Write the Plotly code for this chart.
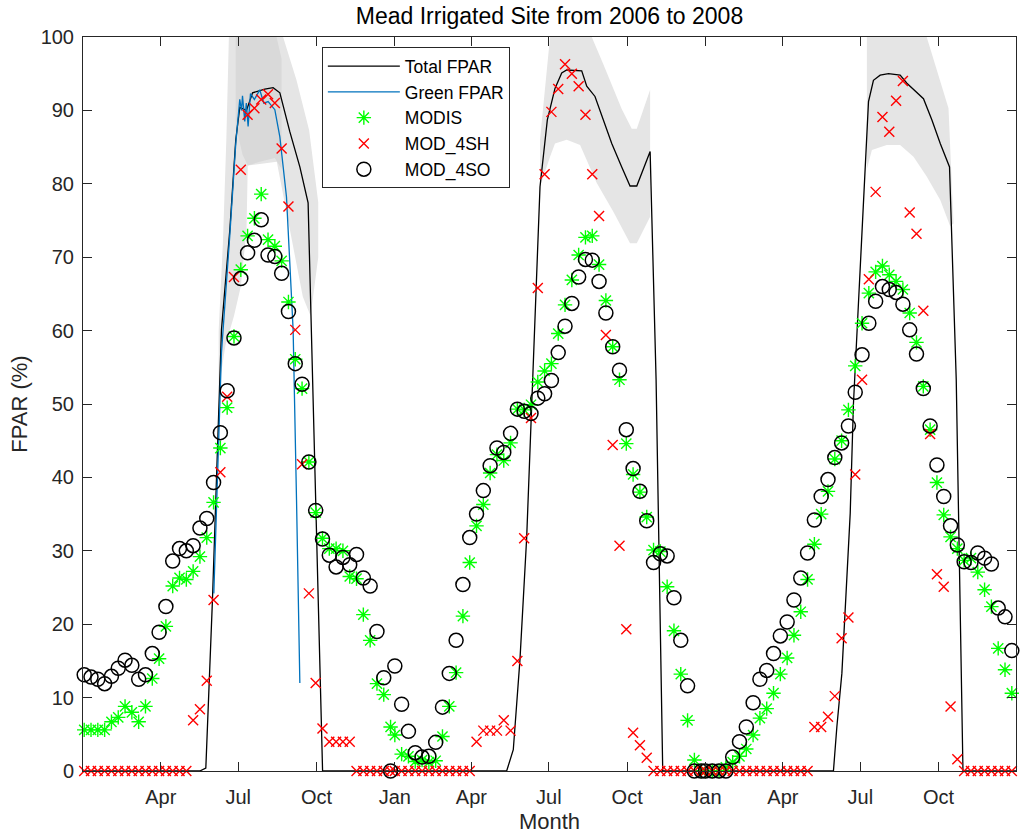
import pandas as pd
import plotly.graph_objects as go

BASE = pd.Timestamp("2006-01-01")
YEARS = [2006, 2007, 2008]
COMPOSITE_DOY = list(range(1, 362, 8))  # 46 MODIS 8-day composites per year

# ---------------- point series (one value per 8-day composite) ----------------
modis_2006 = [5.6, 5.6, 5.6, 5.6, 6.7, 7.3, 8.8, 8.0, 6.7, 8.8, 12.6, 15.3, 19.7, 25.2, 26.3, 26.1,
              27.2, 29.2, 31.8, 36.6, 44.0, 49.5, 59.2, 68.3, 72.9, 75.3, 78.6, 72.4, 71.5, 69.5, 63.9,
              56.1, 52.1, 42.1, 35.2, 31.7, 30.3, 30.3, 30.0, 26.5, 26.2, 21.3, 17.8, 11.9, 10.4, 6.0]
modis_2007 = [4.9, 2.3, 2.0, 1.3, 1.5, 1.2, 1.4, 4.7, 8.8, 13.4, 21.1, 28.4, 33.4, 36.3, 40.6, 43.1,
              42.3, 44.7, 49.3, 49.2, 49.9, 53.0, 54.5, 55.5, 59.6, 63.5, 66.9, 70.3, 72.7, 72.9, 69.0,
              64.1, 57.8, 53.3, 44.6, 40.4, 38.0, 34.6, 30.1, 29.9, 25.1, 19.1, 13.2, 6.9, 1.5, 0.0]
modis_2008 = [0.0, 0.0, 0.0, 0.5, 1.2, 2.0, 3.0, 4.9, 7.2, 8.5, 10.6, 13.2, 15.4, 18.5, 21.7, 26.1,
              30.9, 35.0, 38.1, 42.5, 45.0, 49.2, 55.2, 61.0, 65.1, 68.0, 68.8, 67.6, 66.7, 65.6, 62.4,
              58.4, 52.4, 46.5, 39.3, 34.9, 31.9, 30.3, 28.7, 29.0, 27.1, 24.7, 22.4, 16.7, 13.8, 10.6]

mod4sh_2006 = [0, 0, 0, 0, 0, 0, 0, 0, 0, 0, 0, 0, 0, 0, 0, 0,
               6.9, 8.4, 12.3, 23.3, 40.7, 51.0, 67.3, 81.9, 89.4, 90.3, 91.5, 92.2, 91.0, 84.8, 76.9,
               60.1, 41.8, 24.2, 12.0, 5.8, 4.0, 4.0, 4.0, 4.0, 0, 0, 0, 0, 0, 0]
mod4sh_2007 = [0, 0, 0, 0, 0, 0, 0, 0, 0, 0, 0, 0, 4.0, 5.5, 5.5, 5.5,
               6.9, 5.5, 15.0, 31.7, 48.1, 65.8, 81.3, 89.8, 92.9, 96.3, 95.0, 93.3, 89.4, 81.3, 75.6,
               59.4, 44.4, 30.7, 19.3, 5.2, 3.5, 1.8, 0, 0, 0, 0, 0, 0, 0, 0]
mod4sh_2008 = [0, 0, 0, 0, 0, 0, 0, 0, 0, 0, 0, 0, 0, 0, 0, 0,
               6.0, 6.0, 7.4, 10.2, 18.1, 20.9, 40.4, 53.3, 67.0, 78.9, 89.1, 87.1, 91.3, 94.0, 76.1,
               73.2, 62.7, 45.9, 26.8, 25.1, 8.8, 1.6, 0, 0, 0, 0, 0, 0, 0, 0]

mod4so_2006 = [13.1, 12.8, 12.5, 11.9, 12.9, 14.0, 15.1, 14.4, 12.5, 13.1, 16.0, 18.9, 22.4, 28.6, 30.3, 30.0,
               30.7, 33.1, 34.4, 39.3, 46.1, 51.8, 59.0, 67.1, 70.6, 72.3, 75.1, 70.3, 70.1, 67.8, 62.6,
               55.5, 52.7, 42.1, 35.5, 31.6, 29.4, 27.8, 29.1, 28.1, 29.5, 26.3, 25.2, 19.0, 12.7, 0.0]
mod4so_2007 = [14.3, 9.1, 5.4, 2.5, 1.9, 2.0, 3.9, 8.7, 13.3, 17.8, 25.4, 31.8, 35.0, 38.2, 41.6, 44.0,
               43.4, 46.0, 49.3, 49.0, 48.7, 50.8, 51.4, 53.2, 57.0, 60.6, 63.7, 67.3, 69.7, 69.6, 66.7,
               62.4, 57.8, 54.6, 46.5, 41.2, 38.1, 34.1, 28.4, 29.6, 29.3, 23.6, 17.8, 11.6, 0.0, 0.0]
mod4so_2008 = [0.0, 0.0, 0.0, 0.0, 1.9, 4.0, 6.0, 9.3, 12.5, 13.7, 16.0, 18.4, 20.3, 23.3, 26.3, 29.7,
               34.2, 37.4, 39.7, 42.7, 44.7, 47.0, 51.6, 56.7, 61.0, 64.0, 66.0, 65.6, 65.2, 63.6, 60.1,
               56.8, 52.1, 47.0, 41.7, 37.4, 33.4, 30.8, 28.5, 28.4, 29.7, 29.0, 28.2, 22.2, 21.0, 16.4]

# ---------------- field measured lines (days since 2006-01-01) ----------------
total_day = [0, 135.8, 142.9, 150.7, 161.3, 171.1, 178.1, 182.8, 190.7, 197.8, 212.2, 222.0, 229.9,
             241.6, 253.4, 263.1, 280.1,
             496.4, 504.2, 512.0, 519.9, 525.8, 535.6, 544.2, 553.2, 561.1, 567.0, 584.6, 590.5, 600.2,
             610.0, 619.9, 631.6, 641.4, 649.3, 665.0, 672.0, 679.8,
             880.4, 884.4, 890.3, 896.2, 900.1, 903.9, 911.8, 921.6, 927.4, 935.3, 945.1, 958.8, 966.7,
             976.5, 986.2, 996.1, 1005.9, 1016.8, 1024.7, 1032.6, 1095.0]
total_fpar = [0, 0, 0.4, 23.3, 60.1, 73.7, 86.0, 90.4, 90.0, 92.4, 92.9, 93.1, 92.4,
              87.1, 82.3, 77.4, 0,
              0, 2.9, 15.1, 31.7, 50.5, 79.6, 88.7, 93.0, 95.1, 95.5, 95.4, 93.3, 91.9,
              88.7, 85.5, 82.3, 79.7, 79.7, 84.4, 53.3, 0,
              0, 6.0, 13.3, 26.0, 35.1, 50.0, 69.2, 91.2, 94.1, 94.8, 95.0, 94.8, 93.7,
              92.6, 91.6, 88.7, 85.5, 82.3, 53.3, 0, 0]

green_day = [152.3, 161.3, 171.1, 178.1, 182.8, 184.8, 186.0, 188.7, 190.5, 192.6, 195.4, 200.0,
             206.3, 211.0, 216.1, 224.0, 229.9, 237.7, 241.6, 245.5, 249.5, 253.4]
green_fpar = [24.2, 57.0, 73.0, 85.5, 91.5, 90.0, 92.0, 88.5, 91.0, 87.8, 92.3, 91.5,
              92.8, 91.0, 91.2, 90.1, 86.4, 78.2, 69.2, 60.1, 36.9, 12.0]

# ---------------- uncertainty envelopes (grey shading) ----------------
band06_up_day = [158.0, 163.0, 167.0, 170.0, 182.8, 197.8, 222.0, 233.7, 249.5, 264.3, 275.0]
band06_up = [60, 72, 86, 100, 103, 103, 103, 100, 94.1, 87.3, 77.5]
band06_lo_day = [158.0, 166.0, 176.0, 184.0, 190.7, 192.2, 226.3, 241.6, 256.9, 266.0, 275.0]
band06_lo = [52, 58, 62, 66, 73.7, 82.5, 83, 73.7, 64.6, 62, 70]

gband06_up_day = [178.0, 186.0, 206.0, 224.0, 232.0]
gband06_up = [100, 102, 102, 101, 97]
gband06_lo_day = [178.0, 186.0, 192.2, 206.0, 224.0, 232.0]
gband06_lo = [88, 84, 82.5, 83, 83.5, 82]

band07_up_day = [535.6, 544.2, 547.4, 553.2, 567.0, 584.6, 596.4, 610.0, 619.9, 631.6, 643.4, 649.3, 665.0]
band07_up = [86, 97, 100, 103, 105.5, 105, 100, 96.3, 93.5, 90.2, 87.5, 87.5, 92.8]
band07_lo_day = [535.6, 547.4, 553.2, 567.0, 582.7, 602.3, 621.8, 641.4, 649.3, 665.0]
band07_lo = [79.6, 83.7, 85.5, 86.0, 85.3, 80.1, 76.2, 71.9, 71.9, 75.5]

band08_up_day = [919.7, 927.4, 935.3, 945.1, 958.8, 966.7, 976.5, 990.0, 1015.6]
band08_up = [101, 103, 104, 104.5, 104, 103, 101.5, 100, 90.3]
band08_lo_day = [919.7, 925.6, 943.0, 958.8, 974.5, 990.0, 1005.9, 1017.6, 1021.5]
band08_lo = [82, 84.6, 85.3, 85.3, 83.7, 81.0, 77.8, 74.2, 74.6]

TICK_DATES = ["2006-04-01", "2006-07-01", "2006-10-01", "2007-01-01", "2007-04-01", "2007-07-01",
              "2007-10-01", "2008-01-01", "2008-04-01", "2008-07-01", "2008-10-01"]
TICK_TEXT = ["Apr", "Jul", "Oct", "Jan", "Apr", "Jul", "Oct", "Jan", "Apr", "Jul", "Oct"]


def to_dates(days):
    return [BASE + pd.Timedelta(days=float(d)) for d in days]


def composite_dates():
    out = []
    for y in YEARS:
        start = pd.Timestamp(f"{y}-01-01")
        out += [start + pd.Timedelta(days=d - 1) for d in COMPOSITE_DOY]
    return out


xc = composite_dates()
FONT = "Liberation Sans, Arial, Helvetica, sans-serif"
INK = "#262626"
BAND_LIGHT = "#e5e5e5"
BAND_DARK = "#d9d9d9"

fig = go.Figure()


def add_band(up_day, up, lo_day, lo, color):
    xs = to_dates(up_day) + to_dates(lo_day)[::-1]
    ys = list(up) + list(lo)[::-1]
    fig.add_trace(go.Scatter(x=xs, y=ys, fill="toself", fillcolor=color, mode="lines",
                             line=dict(width=0), hoverinfo="skip", showlegend=False))


add_band(band06_up_day, band06_up, band06_lo_day, band06_lo, BAND_LIGHT)
add_band(gband06_up_day, gband06_up, gband06_lo_day, gband06_lo, BAND_DARK)
add_band(band07_up_day, band07_up, band07_lo_day, band07_lo, BAND_LIGHT)
add_band(band08_up_day, band08_up, band08_lo_day, band08_lo, BAND_LIGHT)

fig.add_trace(go.Scatter(x=to_dates(total_day), y=total_fpar, mode="lines", name="Total FPAR",
                         line=dict(color="black", width=1.3)))
fig.add_trace(go.Scatter(x=to_dates(green_day), y=green_fpar, mode="lines", name="Green FPAR",
                         line=dict(color="#0072BD", width=1.3)))
fig.add_trace(go.Scatter(x=xc, y=modis_2006 + modis_2007 + modis_2008, mode="markers", name="MODIS",
                         cliponaxis=False,
                         marker=dict(symbol="asterisk-open", size=12, color="#00FF00",
                                     line=dict(color="#00FF00", width=1.4))))
fig.add_trace(go.Scatter(x=xc, y=mod4sh_2006 + mod4sh_2007 + mod4sh_2008, mode="markers", name="MOD_4SH",
                         cliponaxis=False,
                         marker=dict(symbol="x-thin-open", size=10, color="#FF0000",
                                     line=dict(color="#FF0000", width=1.4))))
fig.add_trace(go.Scatter(x=xc, y=mod4so_2006 + mod4so_2007 + mod4so_2008, mode="markers", name="MOD_4SO",
                         cliponaxis=False,
                         marker=dict(symbol="circle-open", size=14, color="black",
                                     line=dict(color="black", width=1.5))))

axis_common = dict(showline=True, linecolor=INK, linewidth=1, mirror="ticks", ticks="inside",
                   ticklen=9, tickwidth=1, tickcolor=INK, showgrid=False, zeroline=False,
                   automargin=False, tickfont=dict(family=FONT, size=20, color=INK))

fig.update_layout(
    width=1021, height=839,
    margin=dict(l=83, r=5, t=37, b=68),
    paper_bgcolor="white", plot_bgcolor="white",
    font=dict(family=FONT, color=INK),
    hovermode=False,
    title=dict(text="Mead Irrigated Site from 2006 to 2008", x=0.5, xref="paper", xanchor="center",
               y=1 - 16 / 839, yref="container", yanchor="middle", automargin=False,
               font=dict(family=FONT, size=23, color="black")),
    xaxis=dict(type="date", range=["2005-12-30 14:00", "2008-12-30 22:00"],
               tickvals=TICK_DATES, ticktext=TICK_TEXT, ticklabelstandoff=8,
               title=dict(text="Month", font=dict(family=FONT, size=22, color=INK), standoff=6),
               **axis_common),
    yaxis=dict(range=[0, 100], tickvals=list(range(0, 101, 10)), ticklabelstandoff=4,
               title=dict(text="FPAR (%)", font=dict(family=FONT, size=22, color=INK), standoff=6),
               **axis_common),
    legend=dict(x=0.256, y=0.986, xanchor="left", yanchor="top", bgcolor="white",
                bordercolor=INK, borderwidth=1, itemwidth=72, tracegroupgap=0,
                font=dict(family=FONT, size=17.5, color="black")),
    showlegend=True,
)

fig.write_html("out.html", config={"displayModeBar": False},
               post_script="document.body.style.margin='0';")
